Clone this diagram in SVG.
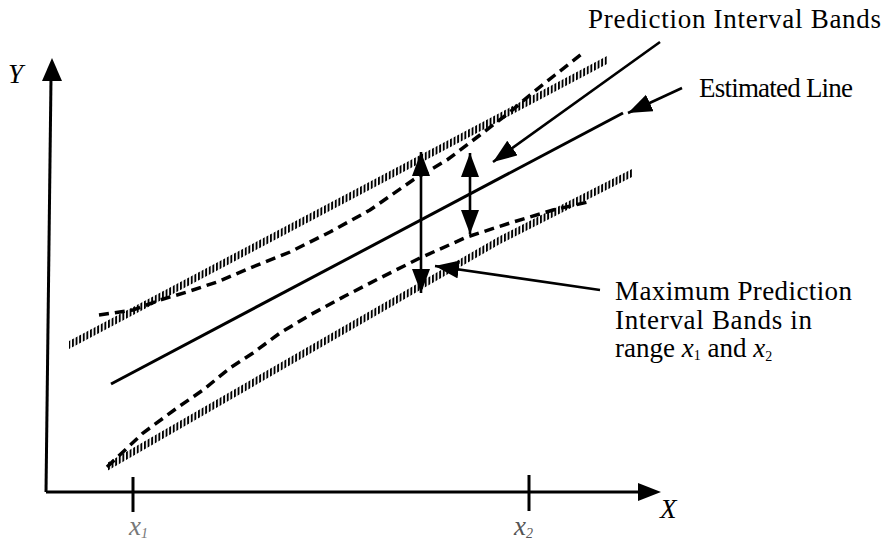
<svg xmlns="http://www.w3.org/2000/svg" width="886" height="544" viewBox="0 0 886 544">
<style>
text{font-family:"Liberation Serif","Times New Roman",serif;fill:#000}
.lbl{font-size:27px}
.it{font-style:italic}
.ax{stroke:#000;stroke-width:3;fill:none}
.ptr{stroke:#000;stroke-width:2.6;fill:none;marker-end:url(#ah)}
.dbl{stroke:#000;stroke-width:2.6;fill:none;marker-end:url(#ah);marker-start:url(#ah)}
.conf{stroke:#000;stroke-width:3.5;fill:none;stroke-dasharray:10 6}
.est{stroke:#000;stroke-width:3;fill:none}
.hatch{fill:url(#vstripe)}
</style>
<defs>
<pattern id="vstripe" patternUnits="userSpaceOnUse" width="3.6" height="10">
<rect x="0" y="0" width="1.9" height="10" fill="#000"/>
</pattern>
<marker id="ah" markerUnits="userSpaceOnUse" markerWidth="26" markerHeight="20" refX="24" refY="9" orient="auto-start-reverse">
<path d="M0,0 L24,9 L0,18 Z" fill="#000"/>
</marker>
</defs>
<rect width="886" height="544" fill="#fff"/>

<g id="axes">
<line class="ax" x1="46" y1="492" x2="51" y2="78"/>
<polygon points="52,58 62,81 42,81" fill="#000"/>
<line class="ax" x1="46" y1="492" x2="640" y2="492"/>
<polygon points="661,492 638,483 638,501" fill="#000"/>
<line class="ax" x1="133" y1="477" x2="133" y2="512"/>
<line class="ax" x1="529" y1="475" x2="529" y2="511"/>
<text class="lbl it" x="8" y="83">Y</text>
<text class="lbl it" x="660" y="518">X</text>
<text class="lbl it" x="129" y="535" style="fill:#777">x<tspan font-size="14" dy="3">1</tspan></text>
<text class="lbl it" x="514" y="535" style="fill:#555">x<tspan font-size="14" dy="3">2</tspan></text>
</g>

<g id="prediction-band-upper">
<polygon class="hatch" points="69,341 607,56 607,64 69,349"/>
</g>
<g id="prediction-band-lower">
<polygon class="hatch" points="107,463 500,236 632,169 632,177 500,244 107,471"/>
</g>

<g id="confidence-band-upper">
<path class="conf" d="M99,315 L113,313 L133,310 L160,300 L187,292 L217,282 L250,268 L290,252 L330,232 L370,210 L413,180 L447,160 L480,135 L510,112 L530,95 L555,75 L583,53"/>
</g>
<g id="confidence-band-lower">
<path class="conf" d="M107,467 L143,433 L177,408 L203,390 L230,368 L253,353 L280,333 L310,315 L345,296 L380,278 L420,258 L467,237 L510,223 L553,210 L588,202"/>
</g>

<g id="estimated-line">
<line class="est" x1="111" y1="384" x2="623" y2="113"/>
</g>

<g id="connectors">
<line class="ptr" x1="660" y1="42" x2="493" y2="162"/>
<line class="ptr" x1="682" y1="88" x2="628" y2="113"/>
<line class="ptr" x1="600" y1="290" x2="435" y2="266"/>
<line class="dbl" x1="421" y1="152" x2="421" y2="293"/>
<line class="dbl" x1="470" y1="153" x2="470" y2="234"/>
</g>

<g id="label-prediction">
<text class="lbl" x="588" y="28" textLength="293">Prediction Interval Bands</text>
</g>
<g id="label-estimated">
<text class="lbl" x="699" y="97" textLength="154">Estimated Line</text>
</g>
<g id="label-maximum">
<text class="lbl" x="615" y="300" textLength="237">Maximum Prediction</text>
<text class="lbl" x="615" y="329" textLength="197">Interval Bands in</text>
<text class="lbl" x="615" y="357">range <tspan class="it">x</tspan><tspan font-size="14" dy="3">1</tspan><tspan dy="-3">  and </tspan><tspan class="it">x</tspan><tspan font-size="14" dy="4">2</tspan></text>
</g>
</svg>
